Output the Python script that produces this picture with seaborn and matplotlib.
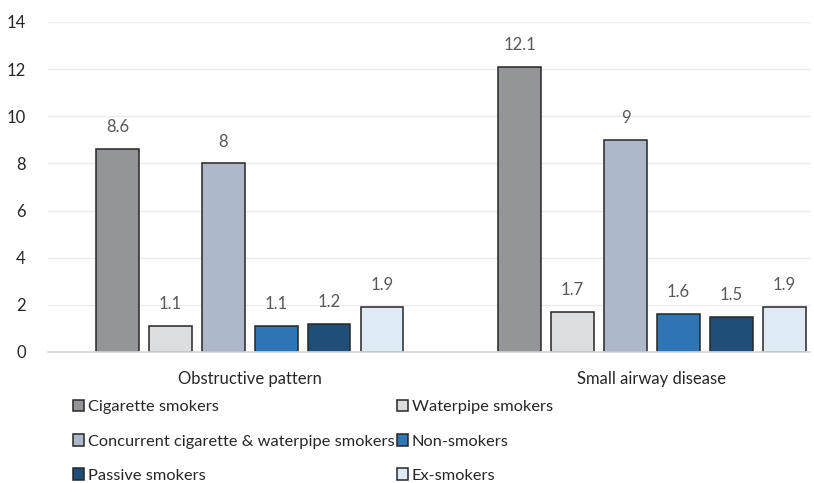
import matplotlib
matplotlib.use("Agg")
import matplotlib.pyplot as plt
import seaborn as sns
import pandas as pd

# Data
categories = ["Obstructive pattern", "Small airway disease"]
groups = ["Cigarette smokers", "Waterpipe smokers",
          "Concurrent cigarette & waterpipe smokers", "Non-smokers",
          "Passive smokers", "Ex-smokers"]
obstructive = [8.6, 1.1, 8, 1.1, 1.2, 1.9]
small_airway = [12.1, 1.7, 9, 1.6, 1.5, 1.9]
colors = ["#939598", "#DCDDDE", "#ADB9CA", "#2E75B6", "#1F4E79", "#DEEBF7"]

rows = []
for g, a, b in zip(groups, obstructive, small_airway):
    rows.append({"category": categories[0], "group": g, "value": a})
    rows.append({"category": categories[1], "group": g, "value": b})
df = pd.DataFrame(rows)

sns.set_theme(style="white")
plt.rcParams['font.family'] = ['Lato', 'DejaVu Sans']

fig = plt.figure(figsize=(8.14, 4.83), dpi=100)
ax = fig.add_axes([48 / 814, 131 / 483, 762 / 814, 330 / 483])

sns.barplot(data=df, x="category", y="value", hue="group", order=categories,
            hue_order=groups, palette=colors, saturation=1, width=0.79, gap=0.2,
            edgecolor="#262626", linewidth=1.1, ax=ax, legend=True)

for cont in ax.containers:
    labels = [f"{v:g}" for v in cont.datavalues]
    ax.bar_label(cont, labels=labels, padding=10, color="#595959", fontsize=12)

ax.set_ylim(0, 14)
ax.set_xlim(-0.502, 1.393)
ax.set_yticks(range(0, 15, 2))
ax.yaxis.grid(True, color="#EBEBEB", linewidth=1)
ax.set_axisbelow(True)
for s in ["top", "right", "left"]:
    ax.spines[s].set_visible(False)
ax.spines["bottom"].set_color("#D9D9D9")
ax.tick_params(axis="both", length=0, labelsize=12, colors="#262626")
ax.tick_params(axis="x", pad=14)
ax.tick_params(axis="y", pad=16)
ax.set_xlabel("")
ax.set_ylabel("")

handles, labs = ax.get_legend_handles_labels()
ax.get_legend().remove()
order = [0, 2, 4, 1, 3, 5]
fig.legend([handles[i] for i in order], [labs[i] for i in order],
           loc="upper left", bbox_to_anchor=(73 / 814, 1 - 400 / 483),
           ncol=2, frameon=False, fontsize=11.8, handlelength=0.7,
           handleheight=0.7, handletextpad=0.2, columnspacing=0.15,
           labelspacing=1.2, borderpad=0, borderaxespad=0,
           labelcolor="#262626")

fig.savefig("out.png", dpi=100)
